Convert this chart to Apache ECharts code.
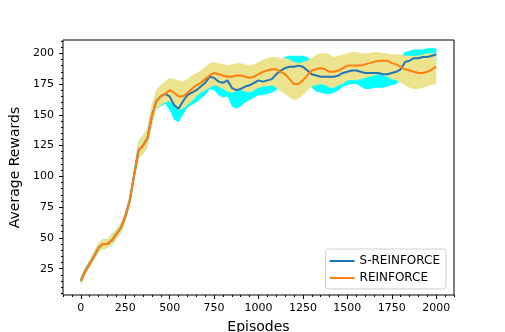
<!DOCTYPE html>
<html>
<head>
<meta charset="utf-8">
<script src="https://cdn.jsdelivr.net/npm/echarts@6/dist/echarts.min.js"></script>
<style>
  html, body { margin: 0; padding: 0; background: #fff; }
  #chart { width: 505px; height: 332px; }
</style>
</head>
<body>
<div id="chart"></div>
<script>
// episodes sampled every 25
var episodes = [0,25,50,75,100,125,150,175,200,225,250,275,300,325,350,375,400,425,450,475,
  500,525,550,575,600,625,650,675,700,725,750,775,800,825,850,875,900,925,950,975,
  1000,1025,1050,1075,1100,1125,1150,1175,1200,1225,1250,1275,1300,1325,1350,1375,1400,1425,1450,1475,
  1500,1525,1550,1575,1600,1625,1650,1675,1700,1725,1750,1775,1800,1825,1850,1875,1900,1925,1950,1975,2000];

// S-REINFORCE (blue line, cyan band)
var sMean = [15,23,29,35,42,45,45,48,53,58,67,80,101,121,125,131,149,161,165,167,
  165,158,155,161,166,168,170,173,176,181,180,177,176,178,172,170,171,173,174,176,
  178,177,178,179,183,186,188,189,189,190,189,186,183,182,181,181,181,181,182,184,
  185,186,186,185,184,184,184,184,183,183,184,185,187,193,194,196,196,197,197,198,199];
var sLow = [12,20,26,32,38,41,42,44,49,54,63,76,96,115,118,124,141,154,157,159,
  154,146,144,150,156,158,160,163,166,171,170,166,164,165,157,155,157,160,162,164,
  166,166,167,168,170,174,178,179,180,181,180,177,172,169,168,167,167,168,170,173,
  174,175,175,173,171,171,172,172,172,173,174,175,178,184,186,188,189,190,190,191,192];
var sHigh = [19,26,32,39,46,49,49,53,57,62,71,84,106,129,133,139,158,170,174,177,
  176,170,167,172,176,178,180,183,186,190,190,188,187,189,185,184,185,186,187,188,
  189,189,190,191,192,195,197,198,198,198,198,197,194,193,193,193,194,194,194,195,
  196,196,196,196,196,196,196,196,195,194,195,195,197,201,202,203,203,203,204,204,204];

// REINFORCE (orange line, khaki band)
var rMean = [15,23,29,35,42,45,45,48,53,58,67,80,101,121,125,131,149,161,165,167,
  170,168,165,165,168,171,174,176,179,182,184,183,182,181,181,182,182,181,180,181,
  183,185,186,187,187,185,183,179,175,175,178,182,186,187,188,187,185,185,186,188,
  190,190,190,190,191,192,193,194,194,194,192,191,189,187,186,185,184,184,185,187,189];
var rLow = [12,20,26,32,38,41,42,44,49,54,63,76,96,115,118,124,141,154,158,160,
  161,157,154,155,158,161,165,168,170,172,174,173,171,169,168,169,170,169,168,170,
  172,173,173,174,172,169,167,164,162,163,166,170,173,174,175,174,172,172,174,175,
  178,178,178,179,180,181,182,183,182,181,179,178,176,174,172,171,171,172,173,174,175];
var rHigh = [19,26,32,39,46,49,49,53,57,62,71,84,106,129,133,139,158,170,174,177,
  180,179,178,177,179,182,184,186,189,192,193,192,191,190,191,192,192,191,190,191,
  193,195,196,197,197,196,196,195,193,192,193,194,196,199,200,200,199,197,198,199,
  200,201,201,200,200,200,201,201,200,200,199,199,199,198,198,198,198,199,200,200,200];

var xMajor = [0,250,500,750,1000,1250,1500,1750,2000];
var xMinor = [-100,-50,50,100,150,200,300,350,400,450,550,600,650,700,800,850,900,950,
  1050,1100,1150,1200,1300,1350,1400,1450,1550,1600,1650,1700,1800,1850,1900,1950,2050,2100];
var yMajor = [25,50,75,100,125,150,175,200];
var yMinor = [5,10,15,20,30,35,40,45,55,60,65,70,80,85,90,95,105,110,115,120,
  130,135,140,145,155,160,165,170,180,185,190,195,205,210];

var font = 'DejaVu Sans';

function linePairs(ys) {
  return episodes.map(function (e, i) { return [e, ys[i]]; });
}
function bandItems(lo, hi) {
  return episodes.map(function (e, i) { return [e, lo[i], hi[i]]; });
}
function bandSeries(name, lo, hi, color) {
  return {
    name: name,
    type: 'custom',
    silent: true,
    data: bandItems(lo, hi),
    encode: { x: 0, y: [1, 2] },
    renderItem: function (params, api) {
      if (params.dataIndex !== 0) return;
      var top = [], bottom = [];
      for (var i = 0; i < episodes.length; i++) {
        top.push(api.coord([episodes[i], hi[i]]));
        bottom.unshift(api.coord([episodes[i], lo[i]]));
      }
      return {
        type: 'polygon',
        shape: { points: top.concat(bottom) },
        style: { fill: color, stroke: null }
      };
    }
  };
}
function plain(v) { return String(v); }

var myChart = echarts.init(document.getElementById('chart'));
var option = {
  animation: false,
  backgroundColor: '#fff',
  grid: {
    left: 63, right: 51, top: 40, bottom: 37,
    outerBoundsMode: 'none', containLabel: false,
    show: true, borderColor: '#000', borderWidth: 1, backgroundColor: '#fff'
  },
  legend: {
    data: ['S-REINFORCE', 'REINFORCE'],
    orient: 'vertical',
    right: 59,
    bottom: 43,
    icon: 'rect',
    itemWidth: 25,
    itemHeight: 2,
    itemGap: 5,
    padding: [6, 6, 5, 4],
    borderColor: '#d0d0d0',
    borderWidth: 1,
    borderRadius: 3,
    backgroundColor: 'rgba(255,255,255,0.8)',
    textStyle: { fontFamily: font, fontSize: 12, color: '#000' }
  },
  xAxis: [{
    type: 'value', min: -100, max: 2100,
    name: 'Episodes', nameLocation: 'middle', nameGap: 25,
    nameTextStyle: { fontFamily: font, fontSize: 14, color: '#000' },
    axisLine: { show: false, onZero: false },
    splitLine: { show: false },
    axisTick: { show: true, length: 4, lineStyle: { color: '#000' }, customValues: xMajor },
    axisLabel: { fontFamily: font, fontSize: 11, color: '#000', margin: 8, formatter: plain, customValues: xMajor }
  }, {
    type: 'value', min: -100, max: 2100, position: 'bottom',
    axisLine: { show: false, onZero: false },
    splitLine: { show: false },
    axisLabel: { show: false },
    axisTick: { show: true, length: 2, lineStyle: { color: '#000' }, customValues: xMinor }
  }],
  yAxis: [{
    type: 'value', min: 3.6, max: 210.8,
    name: 'Average Rewards', nameLocation: 'middle', nameGap: 35,
    nameTextStyle: { fontFamily: font, fontSize: 14, color: '#000' },
    axisLine: { show: false, onZero: false },
    splitLine: { show: false },
    axisTick: { show: true, length: 4, lineStyle: { color: '#000' }, customValues: yMajor },
    axisLabel: { fontFamily: font, fontSize: 11, color: '#000', margin: 9, formatter: plain, customValues: yMajor }
  }, {
    type: 'value', min: 3.6, max: 210.8, position: 'left',
    axisLine: { show: false, onZero: false },
    splitLine: { show: false },
    axisLabel: { show: false },
    axisTick: { show: true, length: 2, lineStyle: { color: '#000' }, customValues: yMinor }
  }],
  series: [
    bandSeries('S-REINFORCE band', sLow, sHigh, '#00ffff'),
    bandSeries('REINFORCE band', rLow, rHigh, '#ede38f'),
    {
      name: 'S-REINFORCE', type: 'line', data: linePairs(sMean),
      showSymbol: false, symbol: 'none', color: '#1f77b4',
      lineStyle: { width: 2, color: '#1f77b4' }
    },
    {
      name: 'REINFORCE', type: 'line', data: linePairs(rMean),
      showSymbol: false, symbol: 'none', color: '#ff7f0e',
      lineStyle: { width: 2, color: '#ff7f0e' }
    }
  ]
};
myChart.setOption(option);
</script>
</body>
</html>
